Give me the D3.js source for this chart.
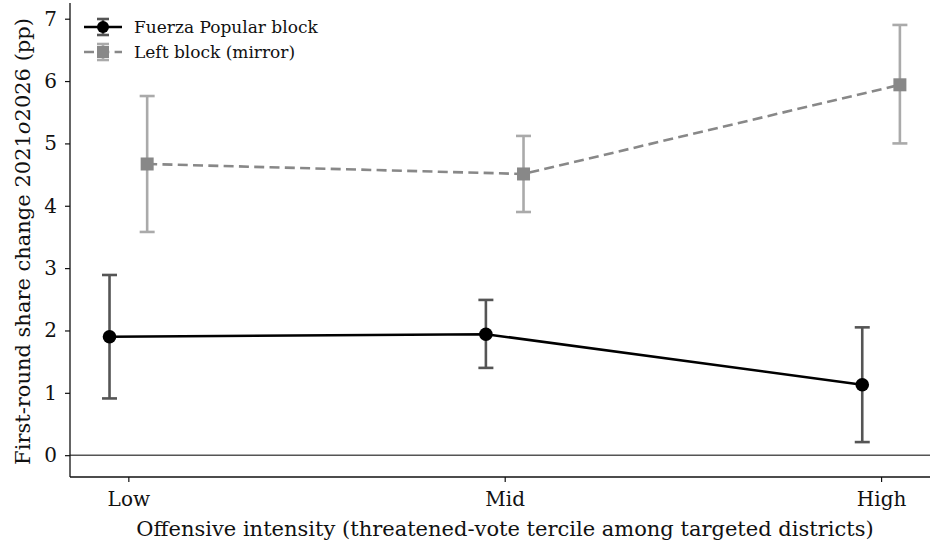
<!DOCTYPE html>
<html>
<head>
<meta charset="utf-8">
<script src="https://cdn.jsdelivr.net/npm/d3@7"></script>
<style>
  html, body { margin: 0; padding: 0; background: #fff; }
  svg { display: block; font-family: "DejaVu Serif", serif; }
</style>
</head>
<body>
<svg id="chart" width="932" height="543"></svg>
<script>
// Terciles of offensive intensity
const categories = ["Low", "Mid", "High"];

// Fuerza Popular block: point estimate and 95% interval
const fpValues = [1.90, 1.94, 1.13];
const fpLower  = [0.91, 1.40, 0.21];
const fpUpper  = [2.89, 2.49, 2.05];

// Left block (mirror): point estimate and 95% interval
const leftValues = [4.67, 4.51, 5.94];
const leftLower  = [3.58, 3.90, 5.00];
const leftUpper  = [5.76, 5.12, 6.90];

const yTicks = [0, 1, 2, 3, 4, 5, 6, 7];

const svg = d3.select("#chart");
const plotLeft = 70, plotRight = 930, plotTop = 0, plotBottom = 477;

const x = d3.scaleLinear().domain([-0.155, 2.13]).range([plotLeft, plotRight]);
const y = d3.scaleLinear().domain([-0.35, 7.3]).range([plotBottom, plotTop]);
const dodge = 0.05;
const dash = "10,5.3";
const lw = 2.6;

// zero reference line
svg.append("line")
  .attr("x1", plotLeft).attr("x2", plotRight)
  .attr("y1", y(0)).attr("y2", y(0))
  .attr("stroke", "#555").attr("stroke-width", 1.4);

// axes
const yAxis = d3.axisLeft(y).tickValues(yTicks).tickFormat(d3.format("d")).tickSizeOuter(0).tickSize(5).tickPadding(8);
const gy = svg.append("g").attr("transform", `translate(${plotLeft},0)`).call(yAxis);
const xAxis = d3.axisBottom(x).tickValues([0, 1, 2]).tickFormat(i => categories[i]).tickSizeOuter(0).tickSize(5).tickPadding(10);
const gx = svg.append("g").attr("transform", `translate(0,${plotBottom})`).call(xAxis);
[gx, gy].forEach(g => {
  g.attr("font-size", 20).attr("font-family", "DejaVu Serif");
  g.selectAll("text").attr("fill", "#111");
  g.selectAll("line").attr("stroke", "#111").attr("stroke-width", 1.2);
  g.select(".domain").attr("stroke", "#111").attr("stroke-width", 1.3);
});
gy.select(".domain").attr("d", `M0,${y(7.3) + 3}V${plotBottom}`);
gx.select(".domain").attr("d", `M${plotLeft},0H${plotRight}`);

// axis titles
svg.append("text")
  .attr("x", (plotLeft + plotRight) / 2 + 5).attr("y", 536)
  .attr("text-anchor", "middle").attr("font-size", 21).attr("fill", "#111")
  .text("Offensive intensity (threatened-vote tercile among targeted districts)");

const yl = svg.append("text")
  .attr("transform", `translate(30,${(plotTop + plotBottom) / 2 + 3}) rotate(-90)`)
  .attr("text-anchor", "middle").attr("font-size", 21).attr("fill", "#111");
yl.append("tspan").text("First-round share change 2021");
yl.append("tspan").attr("font-style", "italic").text("o");
yl.append("tspan").text("2026 (pp)");

function drawSeries(vals, lo, hi, off, lineColor, barColor, dashArr, marker) {
  const g = svg.append("g");
  const line = d3.line().x((d, i) => x(i + off)).y(d => y(d));
  g.append("path").datum(vals)
    .attr("d", line).attr("fill", "none")
    .attr("stroke", lineColor).attr("stroke-width", lw)
    .attr("stroke-dasharray", dashArr);
  vals.forEach((v, i) => {
    const cx = x(i + off);
    g.append("line").attr("x1", cx).attr("x2", cx).attr("y1", y(lo[i])).attr("y2", y(hi[i]))
      .attr("stroke", barColor).attr("stroke-width", lw);
    [lo[i], hi[i]].forEach(c => {
      g.append("line").attr("x1", cx - 7.5).attr("x2", cx + 7.5).attr("y1", y(c)).attr("y2", y(c))
        .attr("stroke", barColor).attr("stroke-width", lw);
    });
    if (marker === "circle") {
      g.append("circle").attr("cx", cx).attr("cy", y(v)).attr("r", 6.8).attr("fill", lineColor);
    } else {
      g.append("rect").attr("x", cx - 6.5).attr("y", y(v) - 6.5).attr("width", 13).attr("height", 13).attr("fill", lineColor);
    }
  });
}

drawSeries(leftValues, leftLower, leftUpper, dodge, "#888", "#aaa", dash, "square");
drawSeries(fpValues, fpLower, fpUpper, -dodge, "#000", "#555", null, "circle");

// legend
const legend = [
  { label: "Fuerza Popular block", line: "#000", bar: "#555", dash: null, marker: "circle" },
  { label: "Left block (mirror)", line: "#888", bar: "#aaa", dash: dash, marker: "square" }
];
legend.forEach((d, i) => {
  const ly = 27 + i * 25;
  const g = svg.append("g");
  g.append("line").attr("x1", 84).attr("x2", 122).attr("y1", ly).attr("y2", ly)
    .attr("stroke", d.line).attr("stroke-width", lw).attr("stroke-dasharray", d.dash);
  g.append("line").attr("x1", 103).attr("x2", 103).attr("y1", ly - 8).attr("y2", ly + 8)
    .attr("stroke", d.bar).attr("stroke-width", lw);
  [ly - 8, ly + 8].forEach(yy => g.append("line").attr("x1", 97).attr("x2", 109).attr("y1", yy).attr("y2", yy)
    .attr("stroke", d.bar).attr("stroke-width", lw));
  if (d.marker === "circle") g.append("circle").attr("cx", 103).attr("cy", ly).attr("r", 6).attr("fill", d.line);
  else g.append("rect").attr("x", 97).attr("y", ly - 6).attr("width", 12).attr("height", 12).attr("fill", d.line);
  g.append("text").attr("x", 134).attr("y", ly + 6).attr("font-size", 17).attr("fill", "#111").text(d.label);
});
</script>
</body>
</html>
